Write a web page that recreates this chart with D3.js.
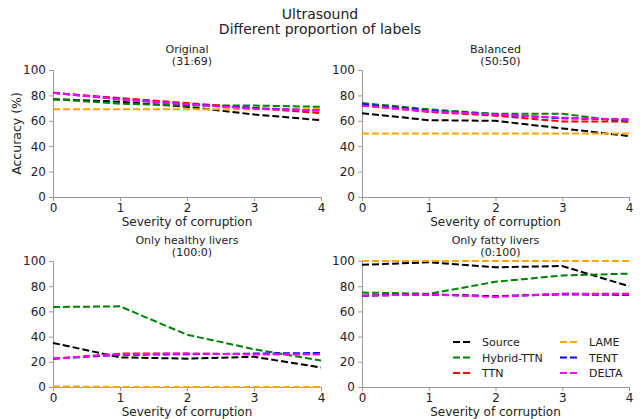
<!DOCTYPE html>
<html>
<head>
<meta charset="utf-8">
<script src="https://cdn.jsdelivr.net/npm/d3@7"></script>
<style>
  body { margin: 0; background: #fff; }
  svg text { font-family: "DejaVu Sans", sans-serif; fill: #222; }
  .axis path, .axis line { stroke: #999; }
  .axis text { font-size: 12px; fill: #222; }
</style>
</head>
<body>
<div id="chart"></div>
<script>
var severity = [0, 1, 2, 3, 4];
var yTicks = [0, 20, 40, 60, 80, 100];
var methods = ["Source", "Hybrid-TTN", "TTN", "LAME", "TENT", "DELTA"];
var colors = ["#000000", "#008000", "#ff0000", "#ffa500", "#0000ff", "#ff00ff"];

var panelTitles = ["Original", "Balanced", "Only healthy livers", "Only fatty livers"];
var panelRatios = ["(31:69)", "(50:50)", "(100:0)", "(0:100)"];

// values per panel, one row per method (same order as methods)
var original = [
  [77, 75, 71, 65, 60.5],
  [77, 73.5, 72, 72, 71],
  [82, 78, 74, 70, 66],
  [69, 69, 69, 69, 69],
  [82, 77, 73, 70, 68],
  [82, 77, 73, 69.5, 68]
];
var balanced = [
  [66, 60.5, 60, 54, 48],
  [74, 69, 65.5, 65.5, 59],
  [72, 67, 64, 59.5, 59.5],
  [50, 50, 50, 50, 50],
  [73, 68, 65, 62, 61],
  [72, 67.5, 65, 62.5, 61]
];
var healthy = [
  [35, 23.5, 22.5, 24, 15.5],
  [63.5, 64, 41.5, 30, 21],
  [22.5, 26.5, 26.5, 26, 26],
  [0.5, 0, 0, 0, 0],
  [22.5, 25.5, 26, 26.5, 27],
  [22.5, 26, 26.5, 26, 26]
];
var fatty = [
  [97, 99, 95, 96, 80],
  [75, 74, 83.5, 88.5, 90],
  [72.5, 73.5, 72, 74, 74],
  [100, 100, 100, 100, 100],
  [72.5, 73.5, 72, 73.5, 73],
  [72.5, 73.5, 71.5, 74, 73.5]
];
var panelData = [original, balanced, healthy, fatty];

var svg = d3.select("#chart").append("svg")
  .attr("width", 640).attr("height", 419);

svg.append("text").attr("x", 320).attr("y", 19)
  .attr("text-anchor", "middle").style("font-size", "14px").text("Ultrasound");
svg.append("text").attr("x", 320).attr("y", 34)
  .attr("text-anchor", "middle").style("font-size", "14px").text("Different proportion of labels");

// plot areas
var boxes = [
  {x0: 53, x1: 321, y0: 70, y1: 197},
  {x0: 362, x1: 629, y0: 70, y1: 197},
  {x0: 53, x1: 321, y0: 261, y1: 387},
  {x0: 362, x1: 629, y0: 261, y1: 387}
];

boxes.forEach(function(b, i) {
  var x = d3.scaleLinear().domain([0, 4]).range([b.x0, b.x1]);
  var y = d3.scaleLinear().domain([0, 100]).range([b.y1, b.y0]);
  var g = svg.append("g");
  var cx = (b.x0 + b.x1) / 2;

  // subplot title
  g.append("text").attr("x", cx).attr("y", b.y0 - 17)
    .attr("text-anchor", "middle").style("font-size", "11px").text(panelTitles[i]);
  g.append("text").attr("x", cx + 5).attr("y", b.y0 - 5)
    .attr("text-anchor", "middle").style("font-size", "11px").text(panelRatios[i]);

  g.append("g").attr("class", "axis")
    .attr("transform", "translate(0," + b.y1 + ")")
    .call(d3.axisBottom(x).tickValues(severity).tickFormat(d3.format("d")).tickSizeOuter(0).tickSize(4).tickPadding(2));
  g.append("g").attr("class", "axis")
    .attr("transform", "translate(" + b.x0 + ",0)")
    .call(d3.axisLeft(y).tickValues(yTicks).tickSizeOuter(0).tickSize(4));

  g.append("text").attr("x", cx).attr("y", b.y1 + 29)
    .attr("text-anchor", "middle").style("font-size", "12px").text("Severity of corruption");

  var line = d3.line()
    .x(function(d, k) { return x(severity[k]); })
    .y(function(d) { return y(d); });

  panelData[i].forEach(function(vals, m) {
    g.append("path")
      .datum(vals)
      .attr("d", line)
      .attr("fill", "none")
      .attr("stroke", colors[m])
      .attr("stroke-width", 2)
      .attr("stroke-dasharray", "7,3");
  });
});

// y label on the first panel only
svg.append("text")
  .attr("transform", "translate(21," + ((boxes[0].y0 + boxes[0].y1) / 2) + ") rotate(-90)")
  .attr("text-anchor", "middle").style("font-size", "12.5px").text("Accuracy (%)");

// legend
var leg = svg.append("g");
methods.forEach(function(name, m) {
  var col = m < 3 ? 0 : 1;
  var row = m % 3;
  var lx = col === 0 ? 453 : 560;
  var ly = 342 + row * 15.5;
  leg.append("line")
    .attr("x1", lx).attr("x2", lx + 20).attr("y1", ly).attr("y2", ly)
    .attr("stroke", colors[m]).attr("stroke-width", 2).attr("stroke-dasharray", "7,3");
  leg.append("text").attr("x", lx + 29).attr("y", ly + 4)
    .style("font-size", "11px").text(name);
});
</script>
</body>
</html>
